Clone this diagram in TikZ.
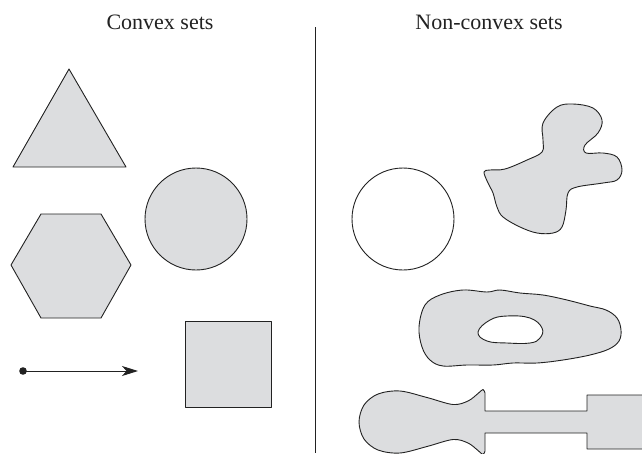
\documentclass[tikz,border=0pt]{standalone}
\usepackage{fontspec}
\setmainfont{Liberation Serif}
\usetikzlibrary{arrows.meta}
\definecolor{shapegray}{HTML}{DCDDDF}
\definecolor{inkc}{HTML}{222222}
\tikzset{
  setshape/.style={draw=inkc, line width=0.9pt, fill=shapegray, line join=round},
  openshape/.style={draw=inkc, line width=0.9pt, fill=white},
  title/.style={font=\fontsize{22}{25}\selectfont, text=inkc, inner sep=0pt},
}
\begin{document}
\begin{tikzpicture}[x=1pt, y=-1pt]
\useasboundingbox (0,0) rectangle (642,453);
\clip (0,0) rectangle (642,453);
% titles
\node[title] (tl) at (160,22) {Convex sets};
\node[title] (tr) at (489,22) {Non-convex sets};
% divider
\coordinate (d0) at (315,27);
\coordinate (d1) at (315,453);
\draw[inkc, line width=0.9pt] (d0) -- (d1);
% triangle
\draw[setshape] (69,69) -- (126,167) -- (13,167) -- cycle;
% hexagon
\draw[setshape] (41,214) -- (101,214) -- (131,265) -- (101,318) -- (41,318) -- (11,265) -- cycle;
% circle
\draw[setshape] (196,219) circle[radius=51pt];
% square
\draw[setshape] (185,321) rectangle (271,407);
% segment
\coordinate (a0) at (23,371);
\coordinate (a1) at (138,371);
\fill[inkc] (a0) circle[radius=3.8pt];
\draw[inkc, line width=0.9pt, -{Stealth[length=16pt,width=10pt,inset=4.5pt]}] (a0) -- (a1);
% open circle
\draw[openshape] (403,219) circle[radius=51pt];
% blob
\draw[setshape] plot[smooth cycle, tension=0.6] coordinates {
 (543,123) (557,107) (573,104) (593,108) (602,120) (598,133) (585,145) (586,153)
 (603,153) (617,157) (622,170) (617,180) (603,183) (577,187) (568,193) (566,210)
 (562,227) (553,233) (537,233) (520,227) (503,217) (497,207) (493,193) (488,183)
 (484,172) (490,170) (505,169) (527,160) (542,152) (543,140)};
% ring blob
\draw[setshape, even odd rule] plot[smooth cycle, tension=0.6] coordinates {
 (419,327) (425,305) (440,295) (463,290) (487,292) (500,290) (520,293) (543,295)
 (567,300) (590,306) (606,310) (617,318) (621,330) (619,341) (609,349) (590,355) (563,360)
 (537,363) (513,363) (493,365) (467,365) (443,366) (430,360) (422,347)}
 plot[smooth cycle, tension=0.7] coordinates {
 (478,332) (490,320) (507,316) (530,318) (542,328) (540,338) (530,343) (507,343) (487,341)};
% bulb with bar
\draw[setshape] (485,411) -- (485,393) -- plot[smooth, tension=0.55] coordinates {
 (485,393) (483,389.5) (478,393.5) (468,401) (453,404.5) (427,397.5) (400,391)
 (378,394) (364,405) (359,422) (364,439) (378,450) (400,453) (427,446.5)
 (453,439.5) (468,443) (478,450.5) (483,454.5) (485,451)}
 -- (485,433) -- (587,433) -- (587,449) -- (660,449) -- (660,395) -- (587,395) -- (587,411) -- cycle;
\end{tikzpicture}
\end{document}
